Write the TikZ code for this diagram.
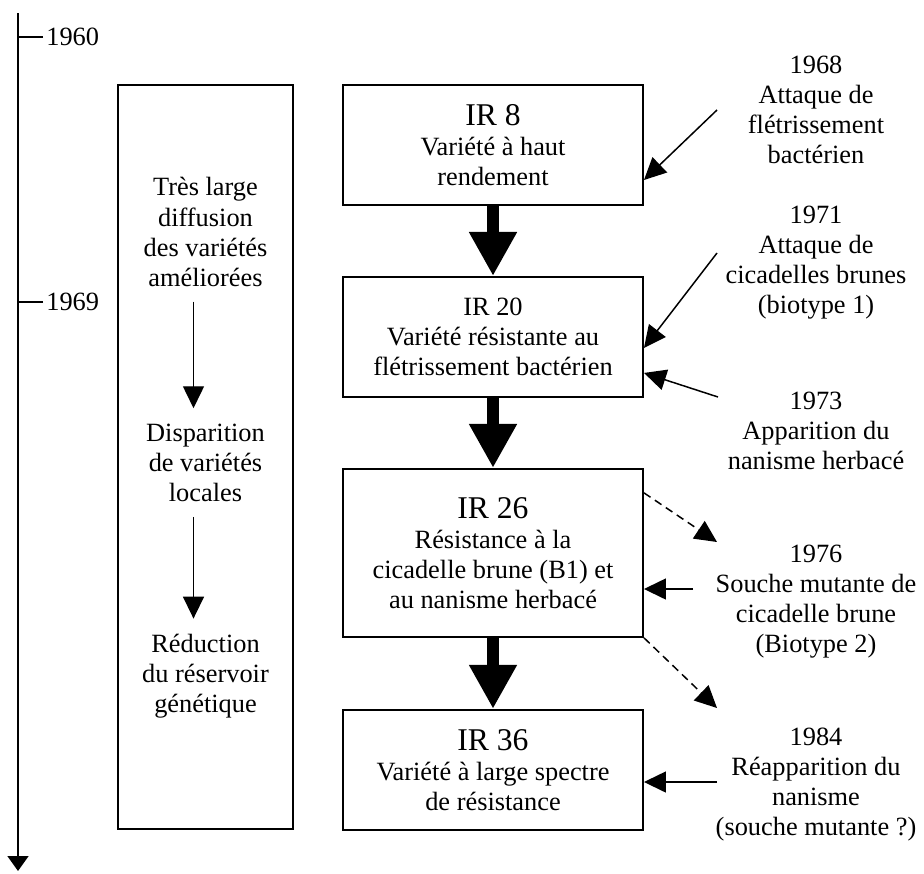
\documentclass[tikz,border=0pt]{standalone}
\usepackage{fontspec}
\setmainfont{Liberation Serif}
\usetikzlibrary{arrows.meta, positioning}

\newcommand{\bodyfont}{\fontsize{15}{17.1}\selectfont}
\newcommand{\irfont}{\fontsize{18}{20}\selectfont}

\begin{document}
\begin{tikzpicture}[
    node distance=1.40cm,
    % Estilos
    variety/.style={rectangle, draw=black, line width=1.1pt, minimum width=6cm, minimum height=2.4cm, align=center, inner sep=2pt, font=\bodyfont},
    trendbox/.style={rectangle, draw=black, line width=1.1pt, minimum width=3.5cm, minimum height=14.88cm},
    trend/.style={align=center, font=\bodyfont, inner sep=0.3cm},
    event/.style={align=center, font=\bodyfont, inner sep=2pt},
    year/.style={anchor=west, font=\bodyfont, inner sep=0.06cm},
    bigarrow/.style={-{Triangle[length=0.88cm, width=0.9cm]}, line width=0.24cm},
    thinarrow/.style={-{Triangle[length=0.44cm, width=0.42cm]}, line width=0.85pt},
    dasharrow/.style={thinarrow, dash pattern=on 4.5pt off 3pt},
    timeline/.style={-{Triangle[length=0.3cm, width=0.42cm]}, line width=0.95pt},
    tick/.style={line width=0.95pt}
]
\useasboundingbox (0,0) rectangle (18.48,-17.46);

% Axe du temps
\coordinate (tltop) at (0.36,-0.26);
\coordinate (tlend) at (0.36,-17.42);
\draw[timeline] (tltop) -- (tlend);
\node[year] (y1960) at (0.86,-0.74) {1960};
\node[year] (y1969) at (0.86,-6.04) {1969};
\draw[tick] (y1960.west) -- (y1960.west -| tltop);
\draw[tick] (y1969.west) -- (y1969.west -| tltop);

% Colonne de gauche
\node[trendbox] (trendbox) at (4.11,-9.14) {};
\node[trend] (diffusion) at (4.11,-4.64) {Très large\\diffusion\\des variétés\\améliorées};
\node[trend] (disparition) at (4.11,-9.25) {Disparition\\de variétés\\locales};
\node[trend] (reduction) at (4.11,-13.52) {Réduction\\du réservoir\\génétique};
\draw[thinarrow] ([xshift=-0.24cm]diffusion.south) -- ([xshift=-0.24cm]disparition.north);
\draw[thinarrow] ([xshift=-0.24cm]disparition.south) -- ([xshift=-0.24cm]reduction.north);

% Variétés IR
\node[variety] (ir8) at (9.86,-2.9) {{\irfont IR 8}\\Variété à haut\\rendement};
\node[variety, below=of ir8] (ir20) {IR 20\\Variété résistante au\\flétrissement bactérien};
\node[variety, below=of ir20, minimum height=3.36cm] (ir26) {{\irfont IR 26}\\Résistance à la\\cicadelle brune (B1) et\\au nanisme herbacé};
\node[variety, below=1.42cm of ir26] (ir36) {{\irfont IR 36}\\Variété à large spectre\\de résistance};

\draw[bigarrow] (ir8) -- (ir20);
\draw[bigarrow] (ir20) -- (ir26);
\draw[bigarrow] (ir26) -- (ir36);

% Evénements
\node[event] (e1968) at (16.32,-2.2) {1968\\Attaque de\\flétrissement\\bactérien};
\node[event] (e1971) at (16.32,-5.25) {1971\\Attaque de\\cicadelles brunes\\(biotype 1)};
\node[event] (e1973) at (16.32,-8.62) {1973\\Apparition du\\nanisme herbacé};
\node[event] (e1976) at (16.32,-12.04) {1976\\Souche mutante de\\cicadelle brune\\(Biotype 2)};
\node[event] (e1984) at (16.32,-15.69) {1984\\Réapparition du\\nanisme\\(souche mutante ?)};

\coordinate (a1968) at (14.34,-2.2);
\coordinate (a1971) at (14.34,-5.06);
\coordinate (a1973) at (14.36,-7.94);
\coordinate (d1976) at (14.34,-10.84);
\coordinate (a1976) at (13.86,-11.78);
\coordinate (d1984) at (14.34,-14.16);
\coordinate (a1984) at (14.34,-15.64);

\draw[thinarrow] (a1968) -- ([yshift=-0.7cm]ir8.east);
\draw[thinarrow] (a1971) -- ([yshift=-0.22cm]ir20.east);
\draw[thinarrow] (a1973) -- ([yshift=-0.72cm]ir20.east);
\draw[dasharrow] ([yshift=1.2cm]ir26.east) -- (d1976);
\draw[thinarrow] (a1976) -- (a1976 -| ir26.east);
\draw[dasharrow] (ir26.south east) -- (d1984);
\draw[thinarrow] (a1984) -- (a1984 -| ir36.east);

\end{tikzpicture}
\end{document}
